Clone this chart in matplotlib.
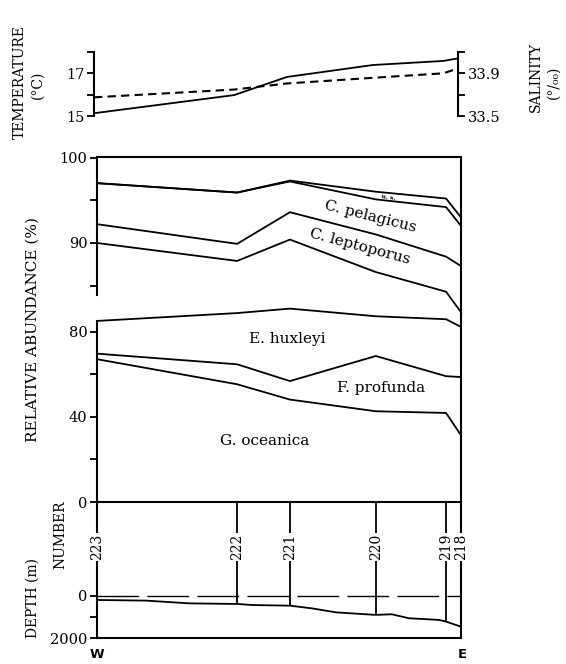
import matplotlib
matplotlib.use("Agg")
import matplotlib.pyplot as plt
import matplotlib.transforms as mtransforms

plt.rcParams['font.family'] = ['DejaVu Serif', 'DejaVu Sans']

W, H = 566, 664

# stations along the W-E transect (0 = W end, 1 = E end)
stations = ['223', '222', '221', '220', '219', '218']
station_pos = [0.0, 0.385, 0.530, 0.766, 0.959, 1.0]

# surface temperature (C) and salinity (per mil)
temperature = [15.13, 15.98, 16.83, 17.39, 17.58, 17.70]
salinity = [33.675, 33.748, 33.805, 33.858, 33.90, 33.945]

# cumulative relative abundance boundaries (%)
cum_total = [97.0, 95.9, 97.3, 96.0, 95.2, 93.0]
cum_pelagicus_top = [97.0, 95.9, 97.2, 95.1, 94.2, 92.0]
cum_leptoporus_top = [92.2, 89.9, 93.6, 91.0, 88.4, 87.3]
cum_upper_base = [90.0, 87.9, 90.4, 86.6, 84.3, 81.9]
cum_huxleyi_top = [85.2, 88.9, 91.0, 87.4, 86.0, 82.4]
cum_profunda_top = [69.8, 64.8, 56.9, 68.7, 59.2, 58.8]
cum_oceanica_top = [67.2, 55.4, 48.2, 42.7, 41.9, 31.4]

# bottom profile (m)
profile_pos = [0.003, 0.135, 0.253, 0.387, 0.426, 0.530, 0.591, 0.657,
               0.766, 0.810, 0.857, 0.940, 0.959, 1.0]
profile_depth = [190, 220, 350, 380, 430, 460, 590, 780,
                 900, 870, 1060, 1140, 1220, 1460]
station_depth = [190, 380, 460, 900, 1220, 1460]

LW = 1.3
FS = 10.5

fig = plt.figure(figsize=(W / 100, H / 100), dpi=100)


def px_axes(left, top, right, bottom):
    ax = fig.add_axes([left / W, 1 - bottom / H, (right - left) / W, (bottom - top) / H])
    ax.set_facecolor('none')
    ax.set_xlim(0, 1)
    ax.set_xticks([])
    for s in ax.spines.values():
        s.set_linewidth(1.5)
    ax.tick_params(direction='out', length=5, width=1.3, labelsize=FS, pad=2)
    return ax


# temperature / salinity
ax_t = px_axes(94, 52, 458, 116)
ax_t.set_ylim(15, 18)
ax_t.set_yticks([15, 16, 17, 18])
ax_t.set_yticklabels(['15', '', '17', ''])
for s in ['top', 'bottom', 'right']:
    ax_t.spines[s].set_visible(False)
ax_t.plot(station_pos, temperature, color='k', lw=LW, clip_on=False)

ax_s = ax_t.twinx()
ax_s.set_facecolor('none')
ax_s.set_ylim(33.5, 34.1)
ax_s.set_yticks([33.5, 33.7, 33.9, 34.1])
ax_s.set_yticklabels(['33.5', '', '33.9', ''])
for s in ['top', 'bottom', 'left']:
    ax_s.spines[s].set_visible(False)
ax_s.spines['right'].set_linewidth(1.5)
ax_s.tick_params(direction='out', length=5, width=1.3, labelsize=FS, pad=2)
ax_s.plot(station_pos, salinity, color='k', lw=1.5, dashes=(4, 2.5), clip_on=False)

# upper abundance panel (broken axis, 84-100 %)
ax_u = px_axes(97, 157.5, 461, 316)
ax_u.set_ylim(81.46, 100)
ax_u.spines['bottom'].set_visible(False)
ax_u.spines['left'].set_bounds(83.9, 100)
ax_u.set_yticks([85, 90, 95, 100])
ax_u.set_yticklabels(['', '90', '', '100'])
for vals in [cum_total, cum_pelagicus_top, cum_leptoporus_top, cum_upper_base]:
    ax_u.plot(station_pos, vals, color='k', lw=LW, clip_on=False)
ax_u.text(0.75, 93.1, 'C. pelagicus', rotation=-14, ha='center', va='center', fontsize=11)
ax_u.text(0.7225, 89.6, 'C. leptoporus', rotation=-15, ha='center', va='center', fontsize=11)
ax_u.text(0.80, 95.35, 'u. s.', rotation=-8, ha='center', va='center', fontsize=4.5,
          fontweight='bold')

# lower abundance panel (0-85 %)
ax_l = px_axes(97, 305, 461, 502)
ax_l.set_ylim(0, 92.7)
ax_l.spines['top'].set_visible(False)
ax_l.spines['left'].set_bounds(0, cum_huxleyi_top[0])
ax_l.set_yticks([0, 20, 40, 60, 80])
ax_l.set_yticklabels(['0', '', '40', '', '80'])
for vals in [cum_huxleyi_top, cum_profunda_top, cum_oceanica_top]:
    ax_l.plot(station_pos, vals, color='k', lw=LW, clip_on=False)
ax_l.text(0.522, 76.7, 'E. huxleyi', ha='center', va='center', fontsize=11)
ax_l.text(0.78, 53.6, 'F. profunda', ha='center', va='center', fontsize=11)
ax_l.text(0.4615, 28.7, 'G. oceanica', ha='center', va='center', fontsize=11)

# station numbers and bottom depth
ax_d = px_axes(97, 502, 461, 638)
ax_d.set_ylim(2000, -4476)
ax_d.spines['top'].set_visible(False)
ax_d.set_yticks([0, 1000, 2000])
ax_d.set_yticklabels(['0', '', '2000'])
ax_d.vlines(station_pos[1:-1], station_depth[1:-1], -4476, color='k', lw=LW)
ax_d.plot([0, 1], [0, 0], color='k', lw=1.0, dashes=(30, 6))
ax_d.plot(profile_pos, profile_depth, color='k', lw=LW, clip_on=False)
trans = mtransforms.blended_transform_factory(ax_d.transData, ax_d.transAxes)
for name, pos in zip(stations, station_pos):
    ax_d.text(pos, 0.67, name, transform=trans, rotation=90, ha='center', va='center',
              fontsize=10, zorder=6,
              bbox=dict(facecolor='white', edgecolor='none', pad=0.8))

# axis titles
fig.text(20 / W, 1 - 82 / H, 'TEMPERATURE', rotation=90, ha='center', va='center', fontsize=10)
fig.text(38 / W, 1 - 85 / H, '(°C)', rotation=90, ha='center', va='center', fontsize=10)
fig.text(536 / W, 1 - 77 / H, 'SALINITY', rotation=90, ha='center', va='center', fontsize=10)
fig.text(554 / W, 1 - 82 / H, '(°/₀₀)', rotation=90, ha='center', va='center', fontsize=10)
fig.text(33 / W, 1 - 330 / H, 'RELATIVE ABUNDANCE (%)', rotation=90, ha='center',
         va='center', fontsize=11)
fig.text(60 / W, 1 - 535 / H, 'NUMBER', rotation=90, ha='center', va='center', fontsize=10)
fig.text(33 / W, 1 - 598 / H, 'DEPTH (m)', rotation=90, ha='center', va='center', fontsize=10)
fig.text(97 / W, 1 - 655 / H, 'W', ha='center', va='center', fontsize=9.5,
         family='DejaVu Sans', fontweight='bold')
fig.text(462 / W, 1 - 655 / H, 'E', ha='center', va='center', fontsize=9.5,
         family='DejaVu Sans', fontweight='bold')

fig.savefig('out.png', dpi=100)
